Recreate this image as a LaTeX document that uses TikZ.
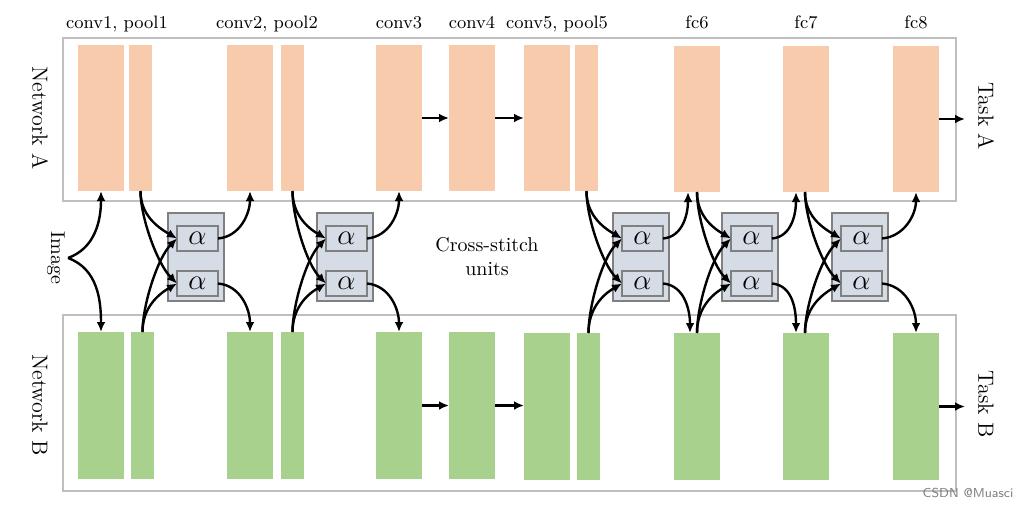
\documentclass[tikz,border=0pt]{standalone}
\usetikzlibrary{arrows.meta}
\definecolor{orA}{RGB}{248,203,173}
\definecolor{grB}{RGB}{169,209,142}
\definecolor{csF}{RGB}{214,220,229}
\definecolor{csD}{RGB}{128,128,128}
\definecolor{netD}{RGB}{191,191,191}
\newcommand\csunit[2]{%
  \node[unitbox] (#1) at (#2,213) {};
  \node[alphabox] (#1u) at ({#2+9},226) {$\alpha$};
  \node[alphabox] (#1l) at ({#2+9},271) {$\alpha$};}
\newcommand\csconn[5]{%
  \draw[conn] #2 to[out=-90,in=150] (#1u.west);
  \draw[conn] #2 to[out=-90,in=135,looseness=0.7] (#1l.west);
  \draw[conn] #3 to[out=90,in=225,looseness=0.7] (#1u.west);
  \draw[conn] #3 to[out=90,in=210] (#1l.west);
  \draw[conn] (#1u.east) to[out=5,in=-90] #4;
  \draw[conn] (#1l.east) to[out=-5,in=90] #5;}
\begin{document}
\begin{tikzpicture}[x=0.5pt,y=-0.5pt,
  blk/.style={inner sep=0pt,outer sep=0pt,anchor=north west},
  ob/.style={blk,fill=orA,minimum height=73pt},
  gb/.style={blk,fill=grB,minimum height=73.5pt},
  wide/.style={minimum width=23pt},
  narrow/.style={minimum width=11.5pt},
  unitbox/.style={blk,fill=csF,draw=csD,line width=0.6pt,minimum width=28pt,minimum height=44pt},
  alphabox/.style={blk,fill=csF,draw=csD,line width=0.6pt,minimum width=20.5pt,minimum height=12.5pt,font=\fontsize{15}{17}\selectfont},
  netbox/.style={draw=netD,line width=0.6pt},
  conn/.style={line width=1.2pt,-{Latex[length=5pt,width=4.4pt]}},
  lab/.style={font=\small,anchor=base},
  side/.style={font=\fontsize{11}{13}\selectfont,rotate=-90},
]
\useasboundingbox (0,0) rectangle (1026,508);
% network frames
\draw[netbox] (63,38) rectangle (956,201);
\draw[netbox] (63,315) rectangle (956,491);
% Network A bars
\node[ob,wide]   (A-c1) at (78,45) {};
\node[ob,narrow] (A-p1) at (129,45) {};
\node[ob,wide]   (A-c2) at (227,45) {};
\node[ob,narrow] (A-p2) at (281,45) {};
\node[ob,wide]   (A-c3) at (376,45) {};
\node[ob,wide]   (A-c4) at (449,45) {};
\node[ob,wide]   (A-c5) at (524,45) {};
\node[ob,narrow] (A-p5) at (575,45) {};
\node[ob,wide]   (A-f6) at (674,46) {};
\node[ob,wide]   (A-f7) at (783,46) {};
\node[ob,wide]   (A-f8) at (893,46) {};
% Network B bars
\node[gb,wide]   (B-c1) at (78,332) {};
\node[gb,narrow] (B-p1) at (131,332) {};
\node[gb,wide]   (B-c2) at (227,332) {};
\node[gb,narrow] (B-p2) at (281,332) {};
\node[gb,wide]   (B-c3) at (376,332) {};
\node[gb,wide]   (B-c4) at (449,332) {};
\node[gb,wide]   (B-c5) at (524,333) {};
\node[gb,narrow] (B-p5) at (577,333) {};
\node[gb,wide]   (B-f6) at (674,333) {};
\node[gb,wide]   (B-f7) at (783,333) {};
\node[gb,wide]   (B-f8) at (893,333) {};
% layer labels
\node[lab] (l1) at (117,29) {conv1, pool1};
\node[lab] (l2) at (267,29) {conv2, pool2};
\node[lab] (l3) at (399,29) {conv3};
\node[lab] (l4) at (472,29) {conv4};
\node[lab] (l5) at (557,29) {conv5, pool5};
\node[lab] (l6) at (697,29) {fc6};
\node[lab] (l7) at (806,29) {fc7};
\node[lab] (l8) at (916,29) {fc8};
% side labels
\node[side] (netA) at (40,118) {Network A};
\node[side] (netB) at (40,405) {Network B};
\node[side] (taskA) at (986,116) {Task A};
\node[side] (taskB) at (986,404) {Task B};
\node[font=\normalsize,rotate=-90] (img) at (56,258) {Image};
\coordinate (imgpt) at (68,258);
\node[align=center,font=\normalsize] (cslab) at (487,257) {Cross-stitch\\units};
% cross-stitch units
\csunit{U1}{168}
\csunit{U2}{317}
\csunit{U3}{613}
\csunit{U4}{722}
\csunit{U5}{832}
% image input
\draw[conn] (imgpt) to[out=20,in=-90] (A-c1.south);
\draw[conn] (imgpt) to[out=-20,in=90] (B-c1.north);
% cross-stitch connections
\csconn{U1}{(A-p1.south)}{(B-p1.north)}{(A-c2.south)}{(B-c2.north)}
\csconn{U2}{(A-p2.south)}{(B-p2.north)}{(A-c3.south)}{(B-c3.north)}
\csconn{U3}{(A-p5.south)}{(B-p5.north)}{([xshift=-4.5pt]A-f6.south)}{([xshift=-3.5pt]B-f6.north)}
\csconn{U4}{(A-f6.south)}{(B-f6.north)}{([xshift=-5pt]A-f7.south)}{([xshift=-5pt]B-f7.north)}
\csconn{U5}{([xshift=-0.5pt]A-f7.south)}{([xshift=-0.5pt]B-f7.north)}{(A-f8.south)}{(B-f8.north)}
% straight connections
\draw[conn] (A-c3.east) -- (A-c4.west);
\draw[conn] (A-c4.east) -- (A-c5.west);
\draw[conn] (B-c3.east) -- (B-c4.west);
\draw[conn] (B-c4.east) -- (B-c4.east -| B-c5.west);
\coordinate (outA) at (965,118);
\coordinate (outB) at (965,405.5);
\draw[conn] (A-f8.east) -- (A-f8.east -| outA);
\draw[conn] (B-f8.east) -- (B-f8.east -| outB);
% watermark
\node[font=\sffamily\fontsize{6.5}{7}\selectfont,text=gray] (wm) at (968,493) {CSDN @Muasci};
\end{tikzpicture}
\end{document}
